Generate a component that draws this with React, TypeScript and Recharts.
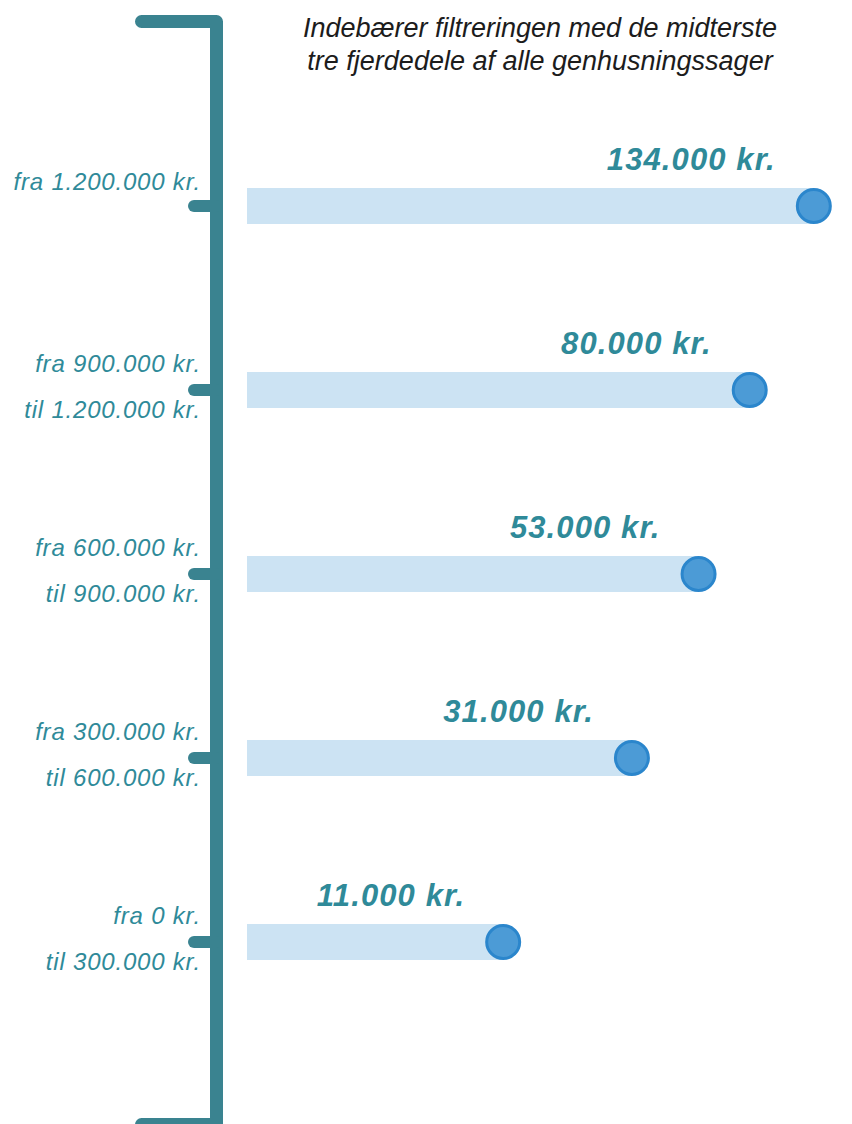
import React from 'react';
import { BarChart, Bar, XAxis, YAxis, LabelList } from 'recharts';

// Rows top to bottom: income brackets and the rent amount in each
const fromLabels = ['fra 1.200.000 kr.', 'fra 900.000 kr.', 'fra 600.000 kr.', 'fra 300.000 kr.', 'fra 0 kr.'];
const toLabels = ['', 'til 1.200.000 kr.', 'til 900.000 kr.', 'til 600.000 kr.', 'til 300.000 kr.'];
const amounts = [134000, 80000, 53000, 31000, 11000];
const titleLines = ['Indebærer filtreringen med de midterste', 'tre fjerdedele af alle genhusningssager'];

const AXIS = '#3a8390';
const TEAL = '#2f8a99';
const BAR = '#cce3f3';
const DOT = '#4c9bd6';
const DOT_EDGE = '#2b86cc';
const FONT = '"Liberation Sans", Arial, Helvetica, sans-serif';

const data = fromLabels.map((from, i) => ({
  key: String(i),
  from,
  to: toLabels[i],
  value: amounts[i],
}));

const formatKr = (v: number) => {
  const s = String(v).replace(/\B(?=(\d{3})+(?!\d))/g, '.');
  return `${s} kr.`;
};

const RangeTick = (props: any) => {
  const { y, payload } = props;
  const row = data[payload.index] ?? data.find(d => d.key === payload.value);
  const single = !row.to;
  return (
    <g>
      <line x1={194} y1={y} x2={216} y2={y} stroke={AXIS} strokeWidth={12} strokeLinecap="round" />
      <text
        x={201}
        y={single ? y - 16 : y - 18}
        textAnchor="end"
        fill={TEAL}
        fontFamily={FONT}
        fontStyle="italic"
        fontSize={24}
        letterSpacing={0.8}
      >
        {row.from}
      </text>
      {row.to && (
        <text
          x={201}
          y={y + 28}
          textAnchor="end"
          fill={TEAL}
          fontFamily={FONT}
          fontStyle="italic"
          fontSize={24}
          letterSpacing={0.8}
        >
          {row.to}
        </text>
      )}
    </g>
  );
};

const BarWithDot = (props: any) => {
  const { x, y, width, height } = props;
  const cy = y + height / 2;
  return (
    <g>
      <rect x={x} y={y} width={width} height={height} fill={BAR} />
      <circle cx={x + width} cy={cy} r={16.5} fill={DOT} stroke={DOT_EDGE} strokeWidth={3} />
    </g>
  );
};

const ValueLabel = (props: any) => {
  const { x, y, width, height, value } = props;
  return (
    <text
      x={x + width - 38}
      y={y + height / 2 - 36}
      textAnchor="end"
      fill={TEAL}
      fontFamily={FONT}
      fontStyle="italic"
      fontWeight="bold"
      fontSize={31}
      letterSpacing={1.1}
    >
      {formatKr(value)}
    </text>
  );
};

const Bracket = () => (
  <g>
    <path
      d="M141.5,21.5 H216.5 V1124.5 H141.5"
      fill="none"
      stroke={AXIS}
      strokeWidth={13}
      strokeLinecap="round"
      strokeLinejoin="round"
    />
    {titleLines.map((line, i) => (
      <text
        key={line}
        x={540}
        y={37 + i * 33}
        textAnchor="middle"
        fill="#1c1c1c"
        fontFamily={FONT}
        fontStyle="italic"
        fontSize={27}
      >
        {line}
      </text>
    ))}
  </g>
);

export default function App() {
  return (
    <div style={{ position: 'absolute', left: 0, top: 0, width: 852, height: 1124, background: '#fff' }}>
      <BarChart
        width={852}
        height={1124}
        data={data}
        layout="vertical"
        margin={{ top: 114, right: 5, bottom: 90, left: 0 }}
      >
        <XAxis type="number" scale="log" domain={[1400, 175000]} allowDataOverflow hide />
        <YAxis
          type="category"
          dataKey="key"
          width={247}
          axisLine={false}
          tickLine={false}
          tick={<RangeTick />}
          interval={0}
        />
        <Bracket />
        <Bar dataKey="value" barSize={36} shape={<BarWithDot />} isAnimationActive={false}>
          <LabelList dataKey="value" content={<ValueLabel />} />
        </Bar>
      </BarChart>
    </div>
  );
}
